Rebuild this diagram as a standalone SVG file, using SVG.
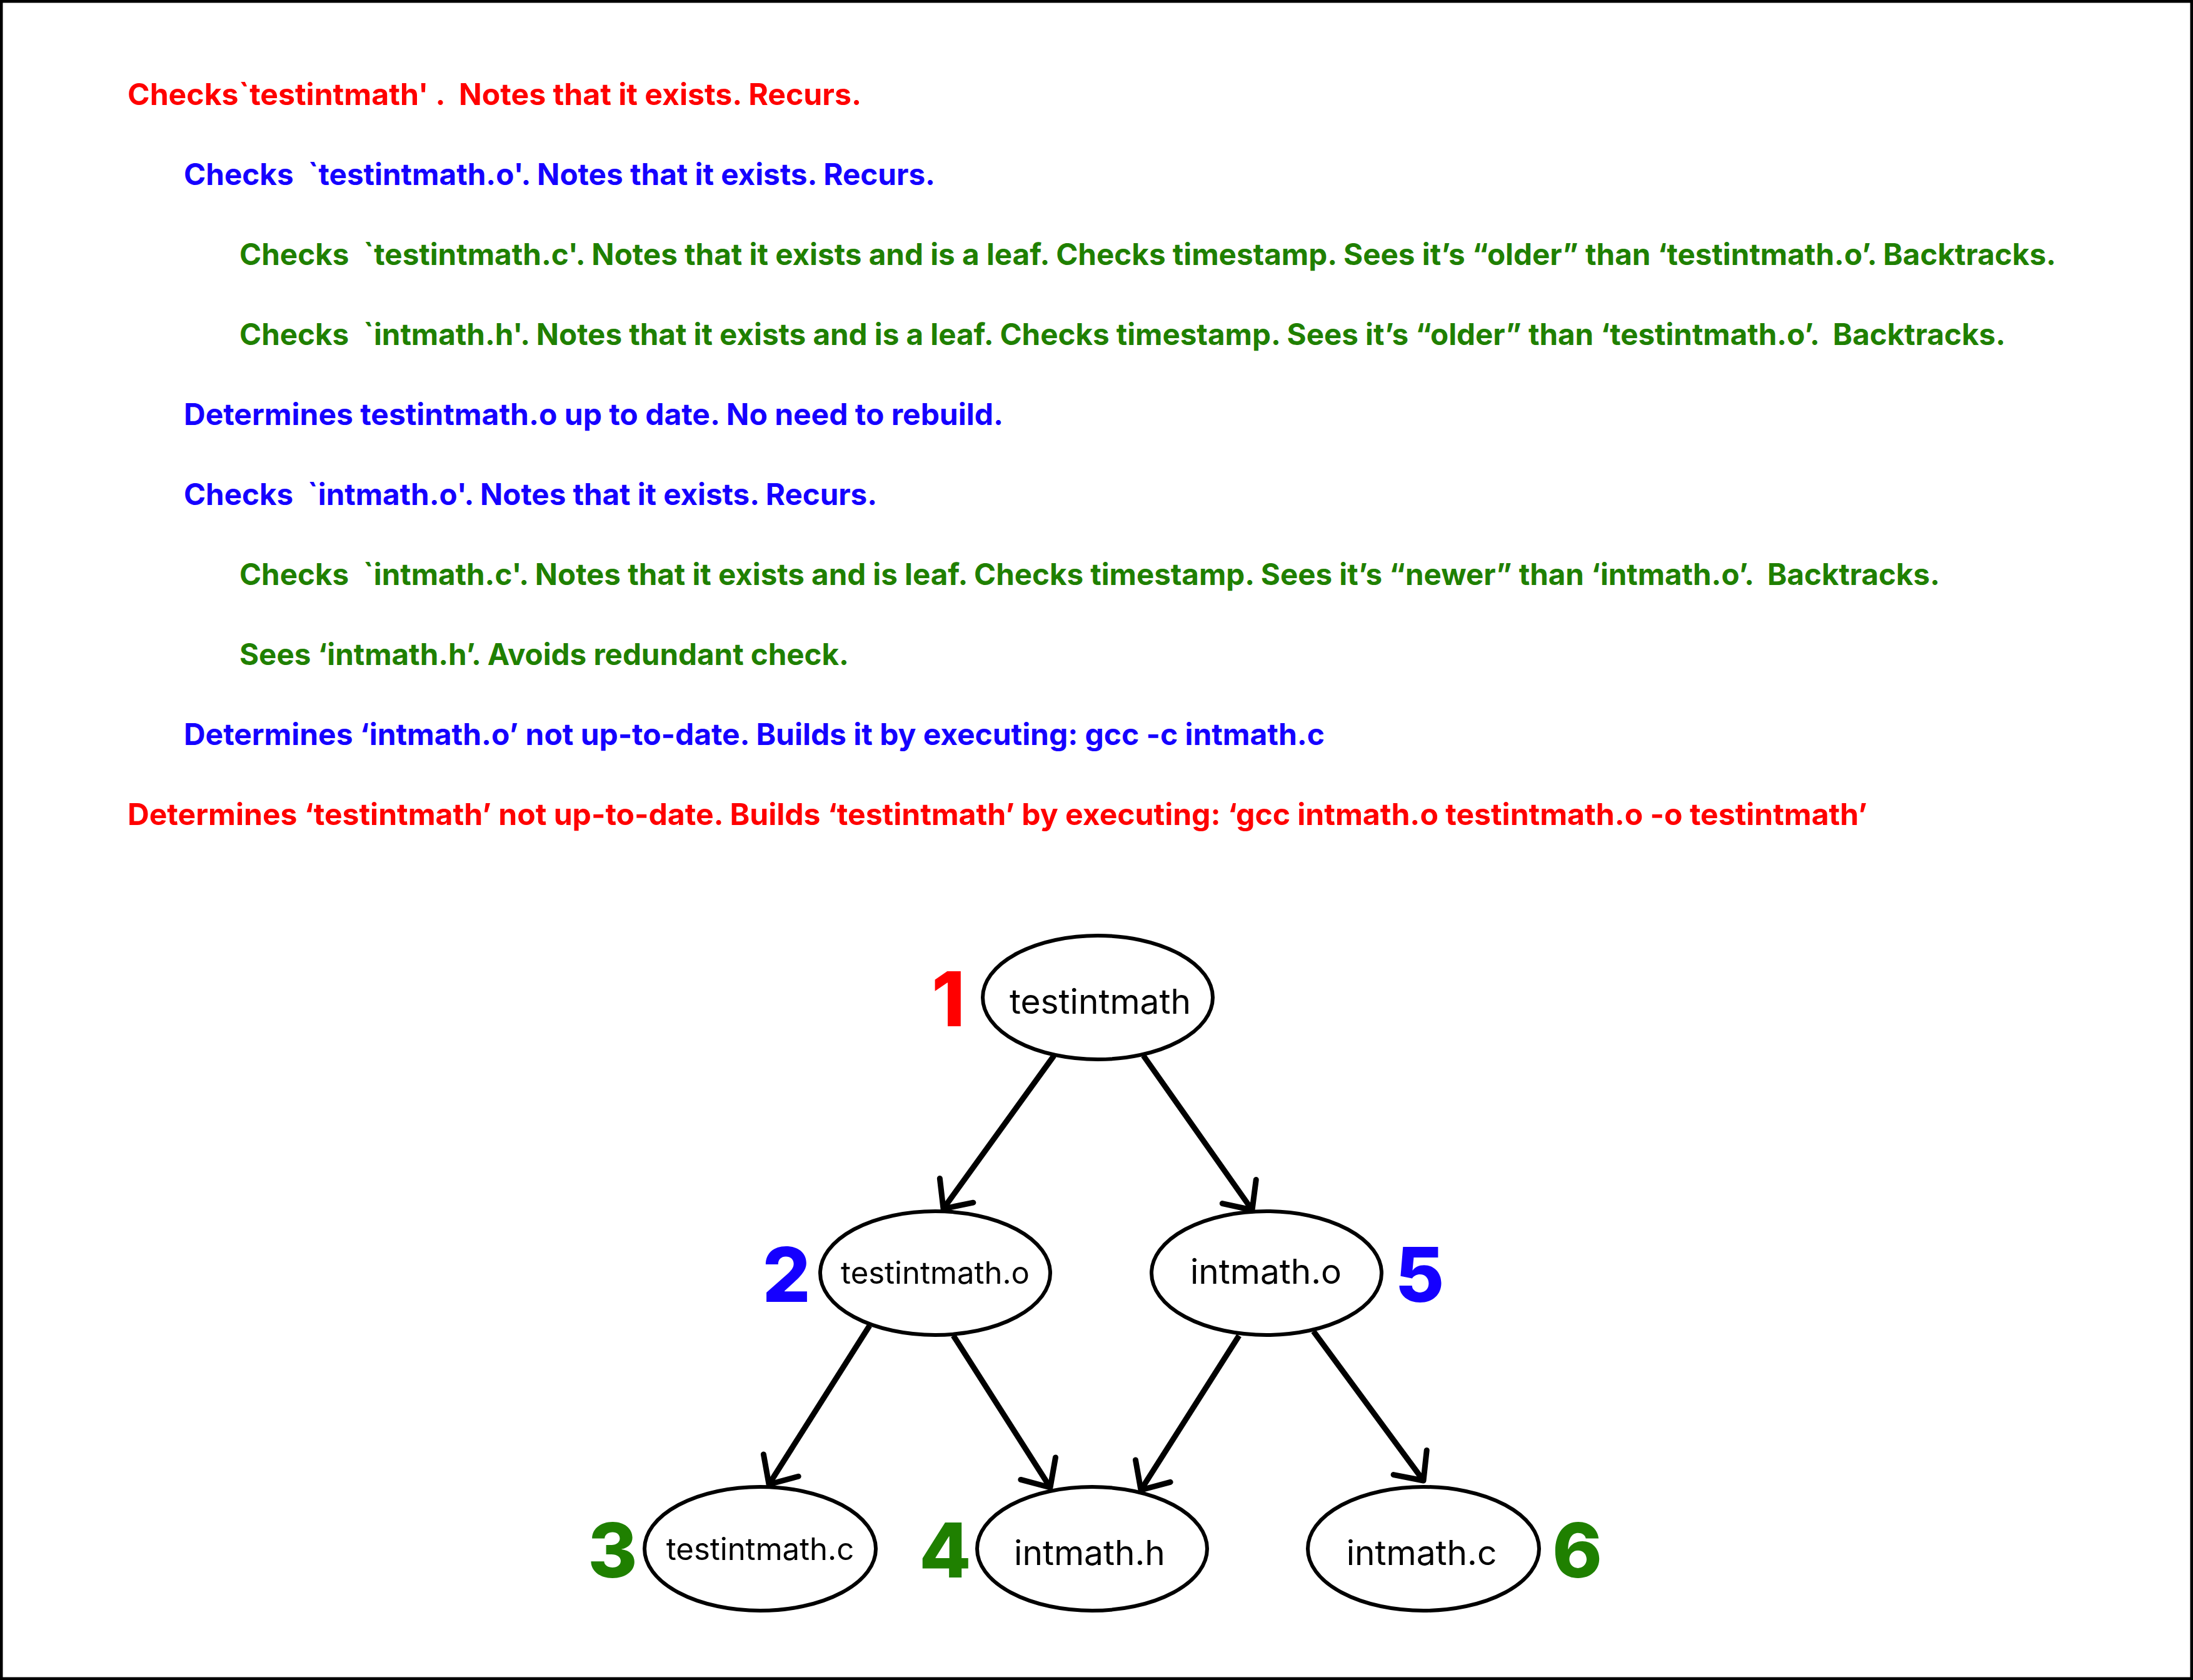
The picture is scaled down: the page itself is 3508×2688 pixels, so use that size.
<svg xmlns="http://www.w3.org/2000/svg" width="3508" height="2688" viewBox="0 0 3508 2688">
<style>
.t{font-family:Inter,"Noto Sans","Liberation Sans",sans-serif;font-weight:700;font-size:48px;white-space:pre}
.red{fill:#ff0000}.blue{fill:#1500ff}.green{fill:#1f8000}
.node ellipse{fill:#ffffff;stroke:#000;stroke-width:6}
.lbl{font-family:Inter,"Noto Sans","Liberation Sans",sans-serif;font-weight:400;fill:#000;text-anchor:middle}
.num{font-family:Inter,"Noto Sans","Liberation Sans",sans-serif;font-weight:800;font-size:121px;text-anchor:middle}
.edge{stroke:#000;stroke-width:9;fill:none;marker-end:url(#arr)}
</style>
<defs>
<marker id="arr" markerUnits="userSpaceOnUse" markerWidth="120" markerHeight="120" viewBox="-60 -60 120 120" refX="0" refY="0" orient="auto" overflow="visible">
<path d="M -36 -33 L 0 0 L -36 33" fill="none" stroke="#000" stroke-width="9" stroke-linecap="round" stroke-linejoin="round"/>
</marker>
</defs>
<rect x="0" y="0" width="3508" height="2688" fill="#ffffff" stroke="#000" stroke-width="9"/>
<g id="text-lines">
<text class="t red" x="204" y="168" textLength="1174" lengthAdjust="spacingAndGlyphs">Checks`testintmath' .  Notes that it exists. Recurs.</text>
<text class="t blue" x="294" y="296" textLength="1202" lengthAdjust="spacingAndGlyphs">Checks  `testintmath.o'. Notes that it exists. Recurs.</text>
<text class="t green" x="383" y="424" textLength="2906" lengthAdjust="spacingAndGlyphs">Checks  `testintmath.c'. Notes that it exists and is a leaf. Checks timestamp. Sees it’s “older” than ‘testintmath.o’. Backtracks.</text>
<text class="t green" x="383" y="552" textLength="2825" lengthAdjust="spacingAndGlyphs">Checks  `intmath.h'. Notes that it exists and is a leaf. Checks timestamp. Sees it’s “older” than ‘testintmath.o’.  Backtracks.</text>
<text class="t blue" x="294" y="680" textLength="1311" lengthAdjust="spacingAndGlyphs">Determines testintmath.o up to date. No need to rebuild.</text>
<text class="t blue" x="294" y="808" textLength="1109" lengthAdjust="spacingAndGlyphs">Checks  `intmath.o'. Notes that it exists. Recurs.</text>
<text class="t green" x="383" y="936" textLength="2720" lengthAdjust="spacingAndGlyphs">Checks  `intmath.c'. Notes that it exists and is leaf. Checks timestamp. Sees it’s “newer” than ‘intmath.o’.  Backtracks.</text>
<text class="t green" x="383" y="1064" textLength="975" lengthAdjust="spacingAndGlyphs">Sees ‘intmath.h’. Avoids redundant check.</text>
<text class="t blue" x="294" y="1192" textLength="1825" lengthAdjust="spacingAndGlyphs">Determines ‘intmath.o’ not up-to-date. Builds it by executing: gcc -c intmath.c</text>
<text class="t red" x="204" y="1320" textLength="2783" lengthAdjust="spacingAndGlyphs">Determines ‘testintmath’ not up-to-date. Builds ‘testintmath’ by executing: ‘gcc intmath.o testintmath.o -o testintmath’</text>
</g>
<g id="connectors">
<line class="edge" x1="1686" y1="1689" x2="1509" y2="1934"/>
<line class="edge" x1="1829" y1="1689" x2="2003" y2="1936"/>
<line class="edge" x1="1391" y1="2121" x2="1230" y2="2375"/>
<line class="edge" x1="1525" y1="2137" x2="1680" y2="2380"/>
<line class="edge" x1="1982" y1="2137" x2="1825" y2="2384"/>
<line class="edge" x1="2101" y1="2130" x2="2277" y2="2369"/>
</g>
<g id="node-testintmath" class="node">
<ellipse cx="1756" cy="1596" rx="184" ry="99"/>
<text class="lbl" x="1760" y="1622" font-size="55">testintmath</text>
<text class="num red" x="1517" y="1642">1</text>
</g>
<g id="node-testintmath-o" class="node">
<ellipse cx="1496" cy="2037" rx="184" ry="99"/>
<text class="lbl" x="1496" y="2054" font-size="49">testintmath.o</text>
<text class="num blue" x="1258" y="2083">2</text>
</g>
<g id="node-intmath-o" class="node">
<ellipse cx="2026" cy="2037" rx="184" ry="99"/>
<text class="lbl" x="2025" y="2054" font-size="55">intmath.o</text>
<text class="num blue" x="2271" y="2083">5</text>
</g>
<g id="node-testintmath-c" class="node">
<ellipse cx="1216" cy="2478" rx="185" ry="99"/>
<text class="lbl" x="1216" y="2496" font-size="49">testintmath.c</text>
<text class="num green" x="980" y="2524">3</text>
</g>
<g id="node-intmath-h" class="node">
<ellipse cx="1747" cy="2478" rx="184" ry="99"/>
<text class="lbl" x="1743" y="2504" font-size="55">intmath.h</text>
<text class="num green" x="1512" y="2524">4</text>
</g>
<g id="node-intmath-c" class="node">
<ellipse cx="2277" cy="2478" rx="185" ry="99"/>
<text class="lbl" x="2274" y="2504" font-size="55">intmath.c</text>
<text class="num green" x="2523" y="2524">6</text>
</g>
</svg>
